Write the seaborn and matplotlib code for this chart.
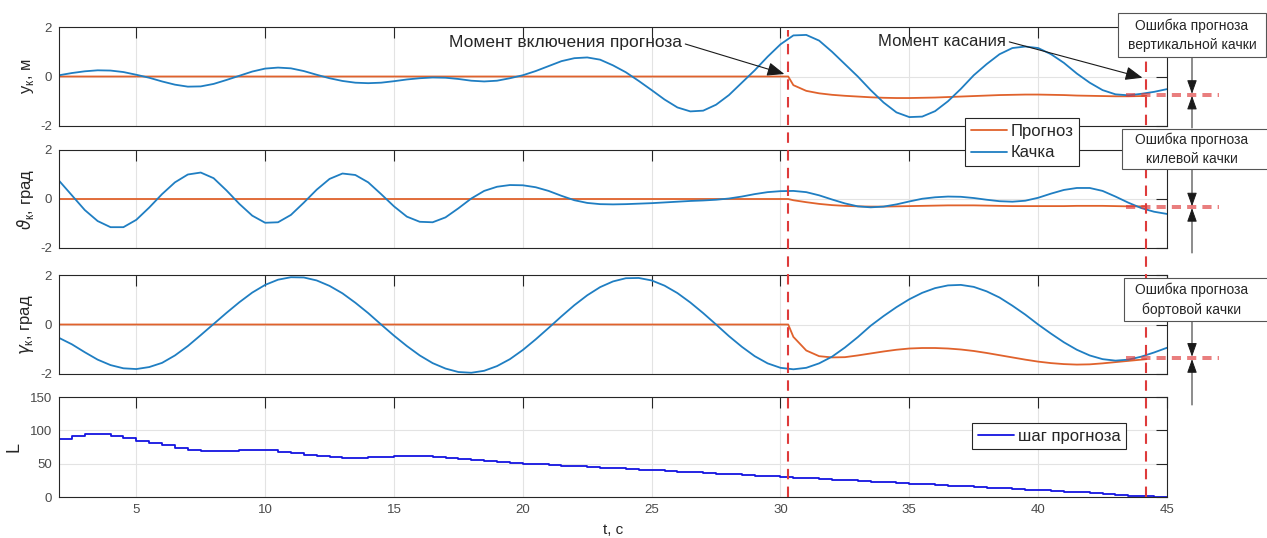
import numpy as np
import pandas as pd
import seaborn as sns
import matplotlib.pyplot as plt
from matplotlib.lines import Line2D
from matplotlib.patches import Rectangle
from matplotlib import transforms


# sample times of the roll signals, s
t = np.arange(2.0, 45.01, 0.5)

# vertical roll y_k, m
yk_roll = [0.05, 0.14, 0.21, 0.25, 0.24, 0.18, 0.07, -0.05, -0.20, -0.33,
           -0.41, -0.40, -0.30, -0.14, 0.03, 0.20, 0.32, 0.36, 0.33, 0.22,
           0.07, -0.07, -0.18, -0.25, -0.27, -0.25, -0.19, -0.12, -0.07, -0.04,
           -0.05, -0.10, -0.17, -0.20, -0.17, -0.07, 0.05, 0.22, 0.42, 0.62,
           0.74, 0.77, 0.68, 0.45, 0.17, -0.18, -0.55, -0.93, -1.25, -1.41,
           -1.38, -1.14, -0.75, -0.25, 0.25, 0.80, 1.30, 1.66, 1.68, 1.45,
           1.00, 0.50, 0.00, -0.55, -1.05, -1.45, -1.64, -1.62, -1.40, -1.00,
           -0.50, 0.05, 0.50, 0.90, 1.15, 1.21, 1.15, 0.90, 0.55, 0.12,
           -0.25, -0.55, -0.72, -0.76, -0.70, -0.62, -0.51]

# pitch theta_k, deg
theta_roll = [0.75, 0.15, -0.45, -0.90, -1.15, -1.15, -0.85, -0.35, 0.20, 0.68,
              1.00, 1.08, 0.85, 0.35, -0.20, -0.68, -0.97, -0.95, -0.65, -0.15,
              0.38, 0.82, 1.04, 0.98, 0.68, 0.20, -0.30, -0.72, -0.93, -0.95,
              -0.75, -0.38, 0.02, 0.33, 0.50, 0.57, 0.56, 0.48, 0.33, 0.13,
              -0.05, -0.16, -0.21, -0.22, -0.21, -0.19, -0.17, -0.14, -0.11, -0.08,
              -0.06, -0.03, 0.02, 0.10, 0.20, 0.28, 0.32, 0.33, 0.28, 0.15,
              -0.02, -0.18, -0.30, -0.34, -0.31, -0.22, -0.10, 0.01, 0.07, 0.10,
              0.09, 0.04, -0.03, -0.09, -0.11, -0.07, 0.05, 0.22, 0.37, 0.45,
              0.45, 0.33, 0.10, -0.15, -0.37, -0.52, -0.61]

# roll gamma_k, deg
gamma_roll = [-0.54, -0.80, -1.12, -1.42, -1.64, -1.77, -1.80, -1.72, -1.55, -1.25,
              -0.87, -0.43, 0.02, 0.47, 0.90, 1.29, 1.60, 1.81, 1.91, 1.90,
              1.78, 1.56, 1.26, 0.88, 0.46, 0.00, -0.45, -0.87, -1.25, -1.56,
              -1.78, -1.92, -1.95, -1.87, -1.68, -1.40, -1.03, -0.60, -0.14, 0.33,
              0.78, 1.18, 1.51, 1.74, 1.87, 1.88, 1.78, 1.57, 1.27, 0.89,
              0.46, 0.00, -0.47, -0.90, -1.28, -1.57, -1.75, -1.81, -1.75, -1.57,
              -1.30, -0.93, -0.51, -0.05, 0.34, 0.70, 1.02, 1.28, 1.47, 1.58,
              1.60, 1.52, 1.34, 1.09, 0.76, 0.40, 0.00, -0.37, -0.72, -1.02,
              -1.25, -1.40, -1.46, -1.42, -1.30, -1.13, -0.94]

# forecast, switched on at 30.3 s, up to touch at 44.2 s
t_pred = [2.0, 30.3, 30.5, 31.0, 31.5, 32.0, 32.5, 33.0, 33.5, 34.0, 34.5,
          35.0, 35.5, 36.0, 36.5, 37.0, 37.5, 38.0, 38.5, 39.0, 39.5,
          40.0, 40.5, 41.0, 41.5, 42.0, 42.5, 43.0, 43.5, 44.0, 44.2]
yk_pred = [0.0, 0.0, -0.35, -0.58, -0.68, -0.74, -0.78, -0.81, -0.84, -0.86, -0.87,
           -0.87, -0.86, -0.85, -0.83, -0.81, -0.79, -0.77, -0.75, -0.74, -0.73,
           -0.73, -0.74, -0.75, -0.77, -0.78, -0.79, -0.80, -0.80, -0.79, -0.78]
theta_pred = [0.0, 0.0, -0.05, -0.13, -0.20, -0.25, -0.28, -0.30, -0.31, -0.31, -0.30,
              -0.29, -0.28, -0.27, -0.26, -0.26, -0.26, -0.27, -0.28, -0.29, -0.29,
              -0.29, -0.29, -0.29, -0.28, -0.28, -0.28, -0.29, -0.30, -0.30, -0.30]
gamma_pred = [0.0, 0.0, -0.50, -1.05, -1.28, -1.33, -1.32, -1.25, -1.17, -1.09, -1.02,
              -0.97, -0.95, -0.95, -0.97, -1.01, -1.07, -1.15, -1.24, -1.33, -1.42,
              -1.50, -1.56, -1.60, -1.62, -1.61, -1.57, -1.52, -1.47, -1.42, -1.40]

# forecast step L (held for each 0.5 s)
L_step = [87, 91, 95, 95, 91.5, 88, 84.5, 81, 77.5, 74,
          71, 69, 69, 69.5, 70.5, 70.5, 70, 68, 65.5, 63,
          61, 59.5, 59, 59, 59.5, 60.5, 61.5, 61.5, 61, 59.5,
          58, 56.5, 55, 53.5, 52.5, 51, 50, 49, 48, 47,
          46, 45, 44, 43, 42, 41, 40, 39, 38, 37,
          36, 35, 34, 33, 32, 31, 30, 29, 28, 27,
          26, 25, 24, 23, 22, 21, 20, 19, 18, 17,
          16, 15, 14, 13, 12, 11, 10, 9, 8, 7,
          6, 4.5, 3, 2, 1, 0, 0]

t_start = 30.3
t_touch = 44.2

BLUE = '#1f7ec2'
ORANGE = '#e0622c'
RED = '#de3b3b'
LBLUE = '#1414e0'

W, H = 1267, 538


def fx(x):
    return x / W


def fy(y):
    return 1 - y / H


df_roll = pd.DataFrame({'t': t, 'yk': yk_roll, 'theta': theta_roll, 'gamma': gamma_roll})
df_pred = pd.DataFrame({'t': t_pred, 'yk': yk_pred, 'theta': theta_pred, 'gamma': gamma_pred})
df_L = pd.DataFrame({'t': t, 'L': L_step})

sns.set_theme(style='white')
plt.rcParams['font.family'] = ['Liberation Sans', 'DejaVu Sans']
plt.rcParams['mathtext.fontset'] = 'dejavusans'
plt.rcParams['axes.unicode_minus'] = False

fig = plt.figure(figsize=(12.67, 5.38), dpi=100)
rows = [(27, 126), (150, 248), (275, 374), (397, 497)]
axes = [fig.add_axes([fx(59), fy(b), fx(1167) - fx(59), (b - a) / H]) for a, b in rows]

cols = ['yk', 'theta', 'gamma']
ylabels = ['y$_{\\mathregular{к}}$, м', '$\\vartheta_{\\mathregular{к}}$, град', '$\\gamma_{\\mathregular{к}}$, град']

for ax, col, lab in zip(axes[:3], cols, ylabels):
    sns.lineplot(data=df_pred, x='t', y=col, ax=ax, color=ORANGE, lw=1.3, legend=False)
    sns.lineplot(data=df_roll, x='t', y=col, ax=ax, color=BLUE, lw=1.3, legend=False)
    ax.set_ylim(-2, 2)
    ax.set_yticks([-2, 0, 2])
    ax.tick_params(labelbottom=False)
    ax.set_ylabel(lab, fontsize=12, color='#262626')
    ax.yaxis.set_label_coords(-0.021, 0.5)

sns.lineplot(data=df_L, x='t', y='L', ax=axes[3], color=LBLUE, lw=1.3,
             drawstyle='steps-post', legend=False)
axes[3].set_ylim(0, 150)
axes[3].set_yticks([0, 50, 100, 150])
axes[3].set_ylabel('L', fontsize=13, color='#262626')
axes[3].yaxis.set_label_coords(-0.033, 0.5)
axes[3].set_xlabel('t, c', fontsize=11, color='#262626', labelpad=5)

for ax in axes:
    ax.set_xlim(2, 45)
    ax.set_xticks(range(5, 46, 5))
    ax.grid(True, color='#e3e3e3', lw=0.8)
    ax.tick_params(direction='in', length=8, width=0.8, top=True, right=True,
                   colors='#262626', labelcolor='#4a4a4a', labelsize=9.5, pad=5)
    for s in ax.spines.values():
        s.set_color('#262626')
        s.set_linewidth(0.8)
    if ax is not axes[3]:
        ax.set_xlabel('')

# vertical dashed lines: forecast start and touch moment
blend = transforms.blended_transform_factory(axes[3].transData, fig.transFigure)
for tv, ytop in [(t_start, 30), (t_touch, 30)]:
    fig.add_artist(Line2D([tv, tv], [fy(497), fy(ytop)], transform=blend,
                          color=RED, lw=1.5, dashes=(5, 3.5), zorder=8))

# error markers at touch moment
box_text = ['Ошибка прогноза\nвертикальной качки',
            'Ошибка прогноза\nкилевой качки',
            'Ошибка прогноза\nбортовой качки']
boxes = [(1118, 13, 1266, 57, 1192), (1122, 129, 1272, 169, 1196), (1124, 278, 1272, 321, 1196)]
up_from = [128, 253, 405]
i_touch = list(t).index(44.0)
for ax, col, txt, (x0, y0, x1, y1, xc), yu in zip(axes[:3], cols, box_text, boxes, up_from):
    v_roll = df_roll[col].iloc[i_touch]
    v_pred = df_pred[col].iloc[-1]
    for v in (v_roll, v_pred):
        ax.plot([43.4, 47.0], [v, v], color=RED, lw=1.1, alpha=0.85, dashes=(6, 4),
                clip_on=False, zorder=5)
    hi, lo = max(v_roll, v_pred), min(v_roll, v_pred)
    fig.add_artist(Rectangle((fx(x0), fy(y1)), (x1 - x0) / W, (y1 - y0) / H,
                             transform=fig.transFigure, facecolor='white',
                             edgecolor='#555555', lw=0.8, zorder=10))
    fig.text(fx(1192), fy((y0 + y1) / 2), txt, ha='center', va='center', fontsize=10,
             linespacing=1.45, color='#262626', zorder=11)
    ap = dict(arrowstyle='-|>,head_length=0.7,head_width=0.25', mutation_scale=12,
              color='k', lw=0.7, shrinkA=0, shrinkB=0)
    ax.annotate('', xy=(fx(1192), hi), xycoords=('figure fraction', 'data'),
                xytext=(fx(1192), fy(y1)), textcoords='figure fraction',
                arrowprops=ap, annotation_clip=False)
    ax.annotate('', xy=(fx(1192), lo), xycoords=('figure fraction', 'data'),
                xytext=(fx(1192), fy(yu)), textcoords='figure fraction',
                arrowprops=ap, annotation_clip=False)

big_ap = dict(arrowstyle='-|>,head_length=0.7,head_width=0.28', mutation_scale=15,
              color='k', lw=0.8, shrinkA=0, shrinkB=0, relpos=(1, 0.5))
axes[0].annotate('Момент включения прогноза', xy=(t_start - 0.15, 0.1),
                 xytext=(fx(682), fy(43)), textcoords='figure fraction',
                 ha='right', va='center', fontsize=12.5, color='#262626',
                 arrowprops=big_ap, annotation_clip=False)
axes[0].annotate('Момент касания', xy=(t_touch - 0.15, -0.05),
                 xytext=(fx(1006), fy(41)), textcoords='figure fraction',
                 ha='right', va='center', fontsize=12, color='#262626',
                 arrowprops=big_ap, annotation_clip=False)

leg_kw = dict(loc='center', fontsize=12, frameon=True, fancybox=False, edgecolor='#262626',
              framealpha=1, handlelength=2.2, handletextpad=0.2, borderpad=0.35,
              labelspacing=0.4, borderaxespad=0)
h = [Line2D([], [], color=ORANGE, lw=1.3), Line2D([], [], color=BLUE, lw=1.3)]
leg = fig.legend(h, ['Прогноз', 'Качка'], bbox_to_anchor=(fx(1022), fy(142)), **leg_kw)
leg.get_frame().set_linewidth(0.8)
leg2 = fig.legend([Line2D([], [], color=LBLUE, lw=1.3)], ['шаг прогноза'],
                  bbox_to_anchor=(fx(1049), fy(436)), **leg_kw)
leg2.get_frame().set_linewidth(0.8)

fig.savefig('out.png', dpi=100)
